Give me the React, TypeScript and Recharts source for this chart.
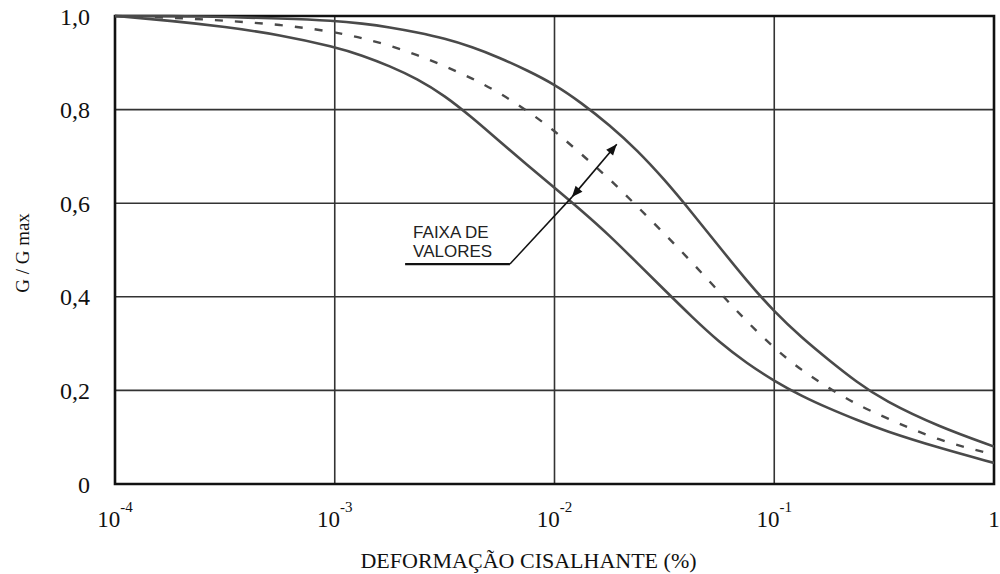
import { LineChart, Line, XAxis, YAxis, CartesianGrid, ReferenceArea, ReferenceLine } from 'recharts'

// deformação cisalhante (%), escala log
const strain = [
  0.0001, 0.000178, 0.000316, 0.000562, 0.001, 0.00133, 0.00178, 0.00237, 0.00316, 0.00422,
  0.00562, 0.0075, 0.01, 0.0133, 0.0178, 0.0237, 0.0316, 0.0422, 0.0562, 0.075,
  0.1, 0.133, 0.178, 0.237, 0.316, 0.562, 1,
]
// G / Gmax - limite superior, médio (tracejado) e inferior
const upper = [1.0, 1.0, 0.998, 0.995, 0.99, 0.984, 0.976, 0.965, 0.952, 0.934, 0.911, 0.884, 0.854, 0.814, 0.767, 0.714, 0.651, 0.58, 0.507, 0.434, 0.368, 0.313, 0.264, 0.218, 0.178, 0.122, 0.08]
const middle = [1.0, 0.997, 0.99, 0.982, 0.966, 0.953, 0.937, 0.917, 0.893, 0.867, 0.836, 0.798, 0.755, 0.704, 0.652, 0.594, 0.535, 0.474, 0.41, 0.347, 0.29, 0.243, 0.204, 0.17, 0.143, 0.092, 0.063]
const lower = [1.0, 0.99, 0.977, 0.96, 0.934, 0.916, 0.893, 0.866, 0.83, 0.783, 0.732, 0.682, 0.633, 0.584, 0.531, 0.473, 0.415, 0.357, 0.303, 0.258, 0.22, 0.188, 0.161, 0.137, 0.114, 0.077, 0.045]

const xTicks = [0.0001, 0.001, 0.01, 0.1, 1]
const yTicks = [0, 0.2, 0.4, 0.6, 0.8, 1]

// "faixa de valores" annotation, in data coords
const arrowLow = { x: 0.012, y: 0.613 }
const arrowHigh = { x: 0.0192, y: 0.726 }
const leaderCorner = { x: 0.00627, y: 0.47 }
const leaderEnd = { x: 0.00209, y: 0.47 }
const noteLines = ['FAIXA DE', 'VALORES']

const data = strain.map((s, i) => ({ s, upper: upper[i], middle: middle[i], lower: lower[i] }))

const SERIF = '"Liberation Serif", "Times New Roman", serif'
const CURVE = '#4a4a4a'

const StrainTick = (props: any) => {
  const { x, y, payload } = props
  const exp = Math.round(Math.log10(payload.value))
  if (exp === 0) {
    return <text x={x} y={y + 41} textAnchor="middle" fontFamily={SERIF} fontSize={23} fill="#111">1</text>
  }
  return (
    <text x={x} y={y + 41} textAnchor="middle" fontFamily={SERIF} fontSize={23} fill="#111">
      <tspan>10</tspan>
      <tspan dy={-15} fontSize={15}>{exp}</tspan>
    </text>
  )
}

const YTitle = (props: any) => {
  const { viewBox } = props
  const cx = viewBox.x + 22
  const cy = viewBox.y + viewBox.height / 2 + 3
  return (
    <text x={cx} y={cy} transform={`rotate(-90 ${cx} ${cy})`} textAnchor="middle" dominantBaseline="central"
      fontFamily={SERIF} fontSize={19} fill="#111">G / G max</text>
  )
}

const XTitle = (props: any) => {
  const { viewBox } = props
  return (
    <text x={viewBox.x + viewBox.width / 2 - 26} y={viewBox.y + 84} textAnchor="middle"
      fontFamily={SERIF} fontSize={22} fill="#111">DEFORMAÇÃO CISALHANTE (%)</text>
  )
}

const head = (x: number, y: number, ang: number) => {
  const len = 11, w = 4.5
  const bx = x - len * Math.cos(ang), by = y - len * Math.sin(ang)
  const px = -Math.sin(ang) * w, py = Math.cos(ang) * w
  return `M${x},${y} L${bx + px},${by + py} L${bx - px},${by - py} Z`
}

const DoubleArrow = (p: any) => {
  const { x1, y1, x2, y2 } = p
  const ang = Math.atan2(y2 - y1, x2 - x1)
  return (
    <g>
      <line x1={x1} y1={y1} x2={x2} y2={y2} stroke="#111" strokeWidth={1.6} />
      <path d={head(x2, y2, ang)} fill="#111" />
      <path d={head(x1, y1, ang + Math.PI)} fill="#111" />
    </g>
  )
}

const NoteLeader = (p: any) => {
  const { x1, y1, x2, y2 } = p
  return (
    <g>
      <line x1={x1} y1={y1} x2={x2} y2={y2} stroke="#111" strokeWidth={2.2} />
      {noteLines.map((t, i) => (
        <text key={t} x={x1 + 8} y={y1 - 26 + i * 19} fontFamily='"Liberation Sans", Arial, sans-serif'
          fontSize={17} fill="#222">{t}</text>
      ))}
    </g>
  )
}

const Leader = (p: any) => {
  const { x1, y1, x2, y2 } = p
  return <line x1={x1} y1={y1} x2={x2} y2={y2} stroke="#111" strokeWidth={1.5} />
}

export default function App() {
  return (
    <div style={{ position: 'absolute', left: 0, top: 0 }}>
      <LineChart width={1000} height={574} data={data} margin={{ top: 16, right: 6, left: 0, bottom: 0 }}>
        <CartesianGrid stroke="#333" strokeWidth={1.6} />
        <XAxis
          dataKey="s" type="number" scale="log" domain={[0.0001, 1]} ticks={xTicks}
          allowDataOverflow height={90} tickLine={false} axisLine={false} tickSize={0}
          tick={<StrainTick />} interval={0}
          label={<XTitle />}
        />
        <YAxis
          type="number" domain={[0, 1]} ticks={yTicks} width={115} tickLine={false} axisLine={false}
          tickSize={0} tickMargin={25} interval={0}
          tickFormatter={(v: number) => (v === 0 ? '0' : v.toFixed(1).replace('.', ','))}
          tick={{ fontFamily: SERIF, fontSize: 24, fill: '#111' }}
          label={<YTitle />}
        />
        <Line type="basis" dataKey="upper" stroke={CURVE} strokeWidth={2.6} dot={false} isAnimationActive={false} />
        <Line type="basis" dataKey="middle" stroke={CURVE} strokeWidth={2.4} strokeDasharray="8 12" dot={false} isAnimationActive={false} />
        <Line type="basis" dataKey="lower" stroke={CURVE} strokeWidth={2.6} dot={false} isAnimationActive={false} />
        <ReferenceArea x1={0.0001} x2={1} y1={0} y2={1} fill="none" stroke="#111" strokeWidth={2.6} ifOverflow="visible" />
        <ReferenceLine segment={[arrowLow, arrowHigh]} shape={<DoubleArrow />} ifOverflow="visible" />
        <ReferenceLine segment={[leaderCorner, arrowLow]} shape={<Leader />} ifOverflow="visible" />
        <ReferenceLine segment={[leaderEnd, leaderCorner]} shape={<NoteLeader />} ifOverflow="visible" />
      </LineChart>
    </div>
  )
}
